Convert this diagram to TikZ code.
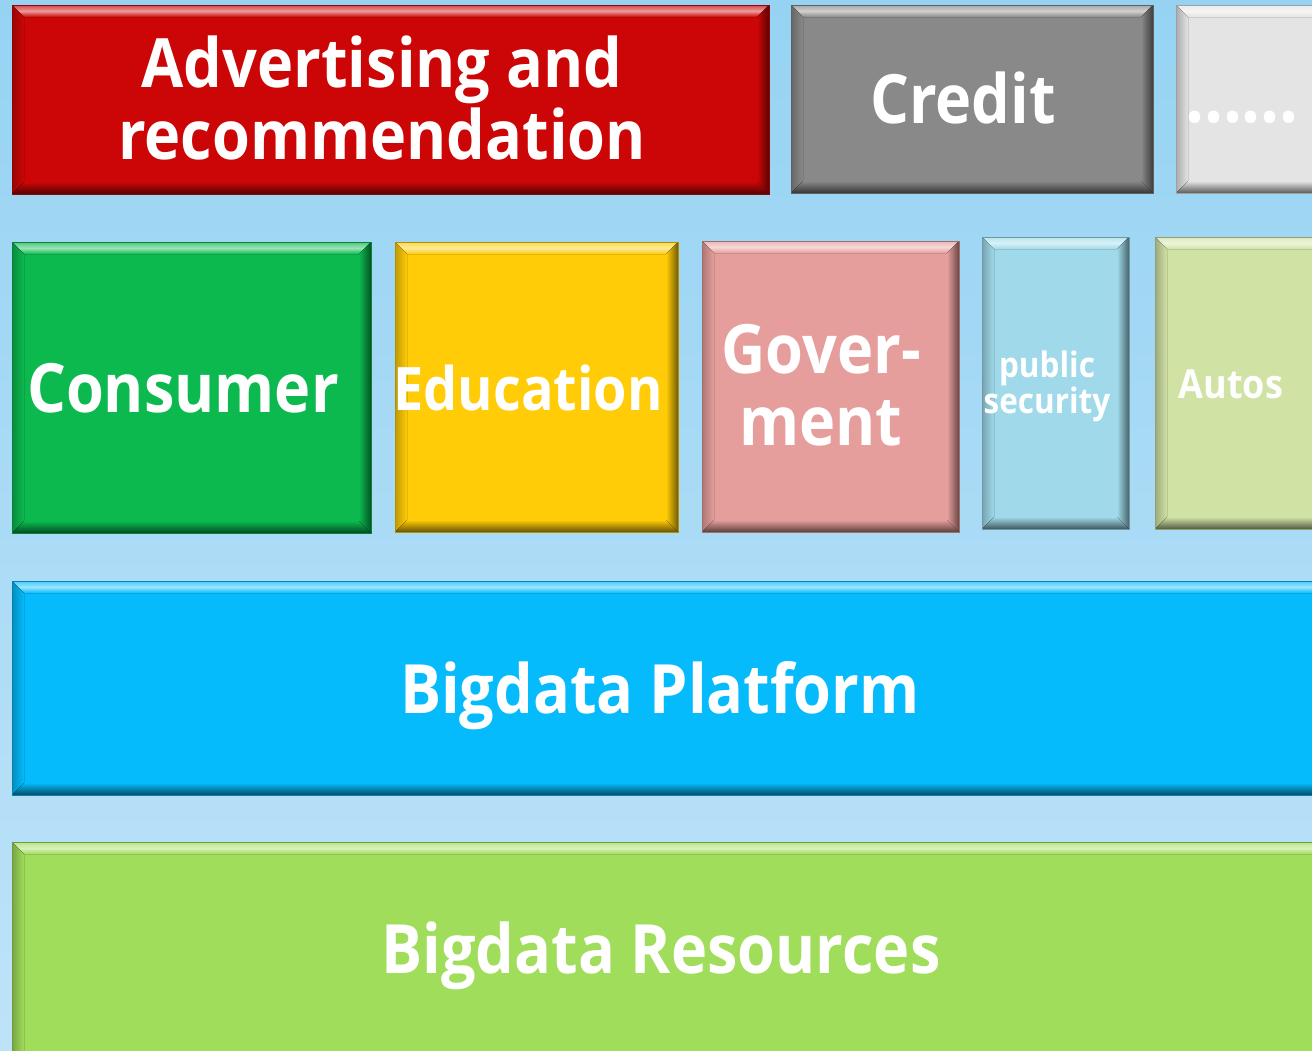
\documentclass[tikz,border=0pt]{standalone}
\usepackage{fontspec}
\setmainfont{Open Sans}[FakeStretch=0.9]
\definecolor{bgTop}{RGB}{150,211,243}
\definecolor{bgBot}{RGB}{190,227,248}
\definecolor{cRed}{RGB}{204,6,6}
\definecolor{cGray}{RGB}{137,137,137}
\definecolor{cLight}{RGB}{228,228,228}
\definecolor{cGreen}{RGB}{11,185,79}
\definecolor{cYellow}{RGB}{255,204,7}
\definecolor{cPink}{RGB}{229,158,155}
\definecolor{cSky}{RGB}{160,218,234}
\definecolor{cOlive}{RGB}{209,226,165}
\definecolor{cCyan}{RGB}{5,187,252}
\definecolor{cLime}{RGB}{160,221,90}
\newcommand\bevelit[2]{%
 \fill[top color=#2!75!white, bottom color=#2, middle color=#2!40!white] (#1.north west) -- (#1.north east) -- ([shift={(-12pt,-12pt)}]#1.north east) -- ([shift={(12pt,-12pt)}]#1.north west) -- cycle;
 \fill[left color=#2!75!black, right color=#2] (#1.north west) -- ([shift={(12pt,-12pt)}]#1.north west) -- ([shift={(12pt,12pt)}]#1.south west) -- (#1.south west) -- cycle;
 \fill[left color=#2, right color=#2!45!black] (#1.north east) -- ([shift={(-12pt,-12pt)}]#1.north east) -- ([shift={(-12pt,12pt)}]#1.south east) -- (#1.south east) -- cycle;
 \fill[top color=#2, bottom color=#2!40!black] (#1.south west) -- ([shift={(12pt,12pt)}]#1.south west) -- ([shift={(-12pt,12pt)}]#1.south east) -- (#1.south east) -- cycle;
 \draw[#2!70!black, line width=0.6pt] (#1.north west) rectangle (#1.south east);
}
\begin{document}
\begin{tikzpicture}[x=1pt,y=-1pt,
  blk/.style={inner sep=0pt, outer sep=0pt, draw=none},
  lbl/.style={text=white, inner sep=0pt, align=center},
  bigtxt/.style={font=\fontsize{68}{72}\selectfont\bfseries},
  edutxt/.style={font=\fontsize{60}{64}\selectfont\bfseries},
  midtxt/.style={font=\fontsize{35}{36}\selectfont\bfseries},
  autotxt/.style={font=\fontsize{40}{42}\selectfont\bfseries}]
\useasboundingbox (0,0) rectangle (1312,1050);
\clip (0,0) rectangle (1312,1050);
\fill[top color=bgTop, bottom color=bgBot] (0,0) rectangle (1312,1050);

% boxes
\node[blk, fill=cRed, minimum width=757pt, minimum height=189pt] (adv) at (390.5,99.5) {};
\node[blk, fill=cGray, minimum width=362pt, minimum height=188pt] (credit) at (972,99) {};
\node[blk, fill=cLight, minimum width=154pt, minimum height=188pt] (more) at (1253,99) {};
\node[blk, fill=cGreen, minimum width=359pt, minimum height=291pt] (cons) at (191.5,387.5) {};
\node[blk, fill=cYellow, minimum width=283pt, minimum height=290pt] (edu) at (536.5,387) {};
\node[blk, fill=cPink, minimum width=257pt, minimum height=291pt] (gov) at (830.5,386.5) {};
\node[blk, fill=cSky, minimum width=147pt, minimum height=292pt] (pub) at (1055.5,383) {};
\node[blk, fill=cOlive, minimum width=175pt, minimum height=292pt] (autos) at (1242.5,383) {};
\node[blk, fill=cCyan, minimum width=1318pt, minimum height=214pt] (plat) at (671,688) {};
\node[blk, fill=cLime, minimum width=1318pt, minimum height=228pt] (res) at (671,956) {};

\bevelit{adv}{cRed}
\bevelit{credit}{cGray}
\bevelit{more}{cLight}
\bevelit{cons}{cGreen}
\bevelit{edu}{cYellow}
\bevelit{gov}{cPink}
\bevelit{pub}{cSky}
\bevelit{autos}{cOlive}
\bevelit{plat}{cCyan}
\bevelit{res}{cLime}

% labels
\node[lbl, bigtxt] (advT) at (382,98) {Advertising and\\recommendation};
\node[lbl, bigtxt, anchor=base] (creditT) at (963,123) {Credit};
\node[lbl, font=\fontsize{74}{76}\selectfont\bfseries, anchor=base] (moreT) at (1242,122) {......};
\node[lbl, bigtxt, anchor=base] (consT) at (183,412) {Consumer};
\node[lbl, edutxt, anchor=base] (eduT) at (528,410) {Education};
\node[lbl, bigtxt] (govT) at (821,385) {Gover-\\ment};
\node[lbl, midtxt] (pubT) at (1047,386) {public\\security};
\node[lbl, autotxt, anchor=base] (autosT) at (1231,398) {Autos};
\node[lbl, bigtxt, anchor=base] (platT) at (660,713) {Bigdata Platform};
\node[lbl, bigtxt, anchor=base] (resT) at (661,973) {Bigdata Resources};
\end{tikzpicture}
\end{document}
